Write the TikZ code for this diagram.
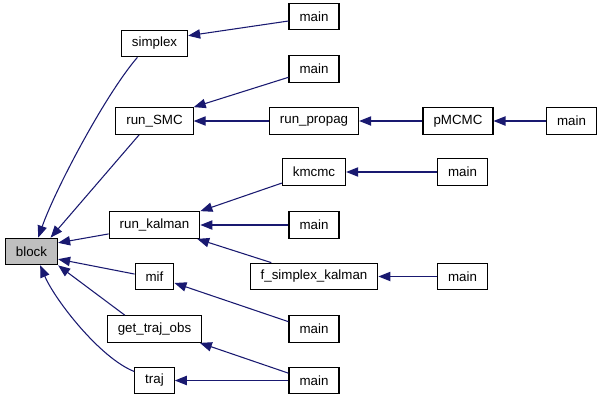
\documentclass[tikz,border=0pt]{standalone}
\usepackage{fontspec}
\setmainfont{Liberation Sans}
\usepackage{tikz}
\usetikzlibrary{
    arrows.meta,
    positioning
}

\tikzset{
    fn/.style={draw, line width=0.8pt, minimum height=20pt, inner xsep=7.9pt,
               inner ysep=0pt, font=\fontsize{10}{12}\selectfont},
    call/.style={draw=midnightblue, line width=0.8pt,
                 -{Triangle[length=9pt,width=7pt]}}
}
\definecolor{midnightblue}{HTML}{191970}
\definecolor{blockgray}{HTML}{BFBFBF}

\begin{document}
\begin{tikzpicture}[x=0.75pt,y=-0.75pt]

\useasboundingbox (0,0) rectangle (603,401);

% block
\node[fn, fill=blockgray] (block) at (31.5,251.5) {block};

% callers of block
\node[fn] (simplex) at (154.5,43.5) {simplex};
\node[fn] (runsmc) at (154.5,121) {run\_SMC};
\node[fn] (runkalman) at (154.5,225) {run\_kalman};
\node[fn] (mif) at (154.5,276.5) {mif};
\node[fn] (gettrajobs) at (154.5,329) {get\_traj\_obs};
\node[fn] (traj) at (154.5,380.5) {traj};

% next column
\node[fn] (mainA) at (314,16.5) {main};
\node[fn] (mainB) at (314,69) {main};
\node[fn] (runpropag) at (314,121) {run\_propag};
\node[fn] (kmcmc) at (314,172) {kmcmc};
\node[fn] (mainC) at (314,225) {main};
\node[fn] (fsk) at (314,276.5) {f\_simplex\_kalman};
\node[fn] (mainD) at (314,329) {main};
\node[fn] (mainE) at (314,380.5) {main};

% right side
\node[fn] (pmcmc) at (458,121) {pMCMC};
\node[fn] (mainF) at (462.5,172) {main};
\node[fn] (mainG) at (462.5,276.5) {main};
\node[fn] (mainH) at (571.5,121) {main};

% calls into block
\draw[call] (simplex.219) .. controls (105,95) and (55,190) .. (block.64);
\draw[call] (runsmc.222) -- (block.36);
\draw[call] (runkalman.191) -- (block.18);
\draw[call] (mif.173) -- (block.344);
\draw[call] (gettrajobs.155) -- (block.south east);
\draw[call] (traj.156) .. controls (100,358) and (55,300) .. (block.302);

% second level
\draw[call] (mainA.190) -- (simplex.13);
\draw[call] (mainB.198) -- (runsmc.north east);
\draw[call] (runpropag) -- (runsmc);
\draw[call] (kmcmc.199) -- (runkalman.north east);
\draw[call] (mainC) -- (runkalman);
\draw[call] (fsk.162) -- (runkalman.342);
\draw[call] (mainD.164) -- (mif.342);
\draw[call] (mainE.164) -- (gettrajobs.343);
\draw[call] (mainE) -- (traj);

% third level and beyond
\draw[call] (pmcmc) -- (runpropag);
\draw[call] (mainH) -- (pmcmc);
\draw[call] (mainF) -- (kmcmc);
\draw[call] (mainG) -- (fsk);

\end{tikzpicture}
\end{document}
